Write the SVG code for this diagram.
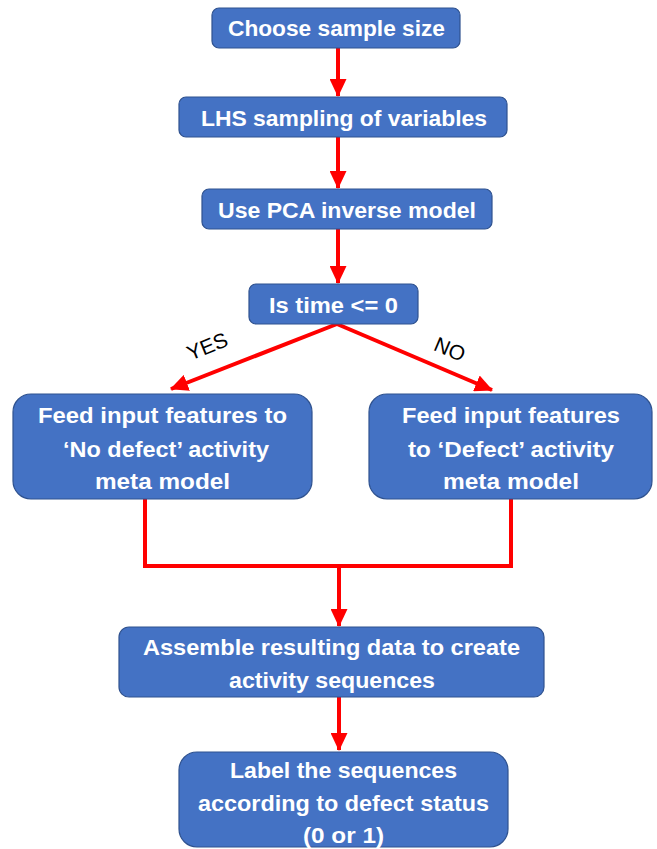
<svg xmlns="http://www.w3.org/2000/svg" width="657" height="849" viewBox="0 0 657 849">
<style>
.box{fill:#4472C4;stroke:#2F528F;stroke-width:1.2}
.t{font-family:"Liberation Sans",Arial,sans-serif;font-weight:bold;font-size:22px;fill:#fff;text-anchor:middle}
.lbl{font-family:"Liberation Sans",Arial,sans-serif;font-size:21px;fill:#000;text-anchor:middle}
.c{fill:none;stroke:#FF0000;stroke-width:4}
</style>
<defs>
<marker id="ah" markerUnits="userSpaceOnUse" markerWidth="19" markerHeight="17" refX="17" refY="8.5" orient="auto">
<path d="M0,0 L18,8.5 L0,17 Z" fill="#FF0000"/>
</marker>
</defs>
<g id="connectors">
<line class="c" x1="338" y1="48" x2="338" y2="96" marker-end="url(#ah)"/>
<line class="c" x1="338" y1="137" x2="338" y2="188" marker-end="url(#ah)"/>
<line class="c" x1="338" y1="229" x2="338" y2="283" marker-end="url(#ah)"/>
<line class="c" x1="337" y1="324" x2="171" y2="389" marker-end="url(#ah)"/>
<line class="c" x1="337" y1="324" x2="492" y2="390" marker-end="url(#ah)"/>
<polyline class="c" points="145,499 145,566 511,566 511,499"/>
<line class="c" x1="339" y1="566" x2="339" y2="626" marker-end="url(#ah)"/>
<line class="c" x1="339" y1="697" x2="339" y2="750" marker-end="url(#ah)"/>
<text class="lbl" transform="translate(210,353) rotate(-22)">YES</text>
<text class="lbl" transform="translate(447,356) rotate(23)">NO</text>
</g>
<g id="n1">
<rect class="box" x="212" y="8" width="248" height="40" rx="7"/>
<text class="t" x="336.5" y="36" textLength="217" lengthAdjust="spacingAndGlyphs">Choose sample size</text>
</g>
<g id="n2">
<rect class="box" x="179" y="97" width="328" height="40" rx="7"/>
<text class="t" x="344" y="126" textLength="286" lengthAdjust="spacingAndGlyphs">LHS sampling of variables</text>
</g>
<g id="n3">
<rect class="box" x="202" y="189" width="290" height="40" rx="7"/>
<text class="t" x="347" y="218" textLength="258" lengthAdjust="spacingAndGlyphs">Use PCA inverse model</text>
</g>
<g id="n4">
<rect class="box" x="249" y="284" width="169" height="40" rx="7"/>
<text class="t" x="333.5" y="313" textLength="129" lengthAdjust="spacingAndGlyphs">Is time &lt;= 0</text>
</g>
<g id="n5">
<rect class="box" x="13" y="394" width="299" height="105" rx="18"/>
<text class="t" x="162.5" y="423" textLength="249" lengthAdjust="spacingAndGlyphs">Feed input features to</text>
<text class="t" x="166" y="457" textLength="206" lengthAdjust="spacingAndGlyphs">‘No defect’ activity</text>
<text class="t" x="162.5" y="489" textLength="135" lengthAdjust="spacingAndGlyphs">meta model</text>
</g>
<g id="n6">
<rect class="box" x="369" y="394" width="283" height="105" rx="18"/>
<text class="t" x="511" y="423" textLength="218" lengthAdjust="spacingAndGlyphs">Feed input features</text>
<text class="t" x="511" y="457" textLength="206" lengthAdjust="spacingAndGlyphs">to ‘Defect’ activity</text>
<text class="t" x="511" y="489" textLength="136" lengthAdjust="spacingAndGlyphs">meta model</text>
</g>
<g id="n7">
<rect class="box" x="119" y="627" width="425" height="70" rx="10"/>
<text class="t" x="331.5" y="655" textLength="377" lengthAdjust="spacingAndGlyphs">Assemble resulting data to create</text>
<text class="t" x="332" y="688" textLength="206" lengthAdjust="spacingAndGlyphs">activity sequences</text>
</g>
<g id="n8">
<rect class="box" x="179" y="752" width="329" height="95" rx="18"/>
<text class="t" x="343.5" y="778" textLength="227" lengthAdjust="spacingAndGlyphs">Label the sequences</text>
<text class="t" x="343.5" y="811" textLength="291" lengthAdjust="spacingAndGlyphs">according to defect status</text>
<text class="t" x="343.5" y="843" textLength="81" lengthAdjust="spacingAndGlyphs">(0 or 1)</text>
</g>
</svg>
